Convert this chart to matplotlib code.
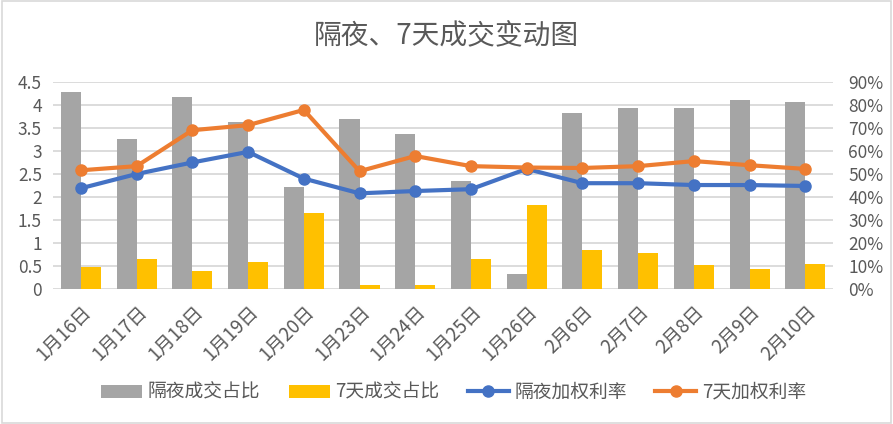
import numpy as np
import matplotlib
matplotlib.use('Agg')
import matplotlib.pyplot as plt
from matplotlib.ticker import FuncFormatter, MultipleLocator

plt.rcParams['font.family'] = ['Noto Sans CJK SC', 'DejaVu Sans']

dates = ['1月16日', '1月17日', '1月18日', '1月19日', '1月20日', '1月23日', '1月24日',
         '1月25日', '1月26日', '2月6日', '2月7日', '2月8日', '2月9日', '2月10日']
on_share = [85.6, 65.2, 83.4, 72.6, 44.2, 73.8, 67.4, 46.8, 6.4, 76.4, 78.6, 78.6, 82.2, 81.2]
d7_share = [9.6, 13.0, 7.8, 12.0, 33.0, 2.0, 2.0, 13.0, 36.4, 16.8, 15.6, 10.4, 8.6, 10.8]
on_rate = [2.19, 2.50, 2.75, 2.98, 2.40, 2.08, 2.13, 2.17, 2.61, 2.30, 2.30, 2.26, 2.26, 2.24]
d7_rate = [2.58, 2.67, 3.45, 3.56, 3.89, 2.56, 2.89, 2.67, 2.64, 2.63, 2.67, 2.78, 2.69, 2.61]

txt = '#595959'
grid_c = '#d9d9d9'

fig = plt.figure(figsize=(8.93, 4.24), dpi=100)
ax = fig.add_axes([0.0594, 0.318, 0.8736, 0.489])
ax2 = ax.twinx()

x = np.arange(len(dates))
w = 0.36
ax2.bar(x - w / 2, np.array(on_share) / 100, w, color='#A5A5A5', label='隔夜成交占比')
ax2.bar(x + w / 2, np.array(d7_share) / 100, w, color='#FFC000', label='7天成交占比')
ax2.set_ylim(0, 0.9)
ax2.yaxis.set_major_locator(MultipleLocator(0.1))
ax2.yaxis.set_major_formatter(FuncFormatter(lambda v, p: f'{v * 100:.0f}%'))
ax2.grid(axis='y', color=grid_c, linewidth=1.3)
ax2.set_axisbelow(True)

ax.plot(x, on_rate, color='#4472C4', lw=3, marker='o', ms=8, label='隔夜加权利率')
ax.plot(x, d7_rate, color='#ED7D31', lw=3, marker='o', ms=8, label='7天加权利率')
ax.set_ylim(0, 4.5)
ax.yaxis.set_major_locator(MultipleLocator(0.5))
ax.yaxis.set_major_formatter(FuncFormatter(lambda v, p: f'{v:g}'))
ax.set_xlim(-0.5, len(dates) - 0.5)
ax.set_xticks(x)
ax.set_xticklabels(dates, rotation=45, ha='right', rotation_mode='anchor')

ax.set_zorder(ax2.get_zorder() + 1)
ax.patch.set_visible(False)

for a in (ax, ax2):
    for s in a.spines.values():
        s.set_visible(False)
    a.tick_params(length=0, colors=txt, labelsize=12.5)
ax.tick_params(axis='y', pad=8)
ax2.tick_params(axis='y', pad=11)
ax.tick_params(axis='x', pad=9, labelsize=13.5)

fig.text(0.5, 0.915, '隔夜、7天成交变动图', ha='center', va='center', fontsize=20, color=txt)

h1, l1 = ax2.get_legend_handles_labels()
h2, l2 = ax.get_legend_handles_labels()
fig.legend(h1 + h2, l1 + l2, loc='center', bbox_to_anchor=(0.508, 0.075), ncol=4,
           frameon=False, fontsize=13.5, labelcolor=txt, handlelength=2.2, columnspacing=1.5,
           handletextpad=0.3)

fig.patches.append(plt.Rectangle((0.002, 0.003), 0.996, 0.994, transform=fig.transFigure,
                                 fill=False, edgecolor=grid_c, lw=1.2))

fig.savefig('out.png', dpi=100)
